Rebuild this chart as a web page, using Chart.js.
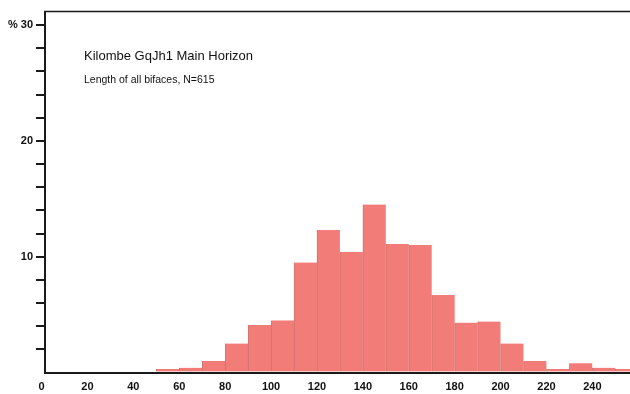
<!DOCTYPE html>
<html><head><meta charset="utf-8">
<script src="https://cdn.jsdelivr.net/npm/chart.js@4"></script>
<style>html,body{margin:0;padding:0;background:#fff}#wrap{width:630px;height:394px}</style>
</head><body><div id="wrap"><canvas id="c" width="630" height="394"></canvas></div>
<script>
// Histogram bins (start of each 10-unit length class)
const binStarts = [50,60,70,80,90,100,110,120,130,140,150,160,170,180,190,200,210,220,230,240,250];
const binWidth = 10;
// Percentage of bifaces in each bin
const percentages = [0.3,0.4,1.0,2.5,4.1,4.5,9.5,12.3,10.4,14.5,11.1,11.0,6.7,4.3,4.4,2.5,1.0,0.3,0.8,0.4,0.3];
// Tick labels
const xTickValues = [0,20,40,60,80,100,120,140,160,180,200,220,240];
const yLabelValues = [10,20,30];
const yLabelTexts = ['10','20','% 30'];
const titleText = 'Kilombe GqJh1 Main Horizon';
const subtitleText = 'Length of all bifaces, N=615';

const FONT = '"Liberation Sans", Arial, Helvetica, sans-serif';
const INK = '#1a1a1a';

const framePlugin = {
  id: 'frame',
  afterDraw(chart) {
    const {ctx, chartArea} = chart;
    ctx.save();
    ctx.strokeStyle = INK;
    ctx.lineWidth = 1.5;
    ctx.beginPath();
    ctx.moveTo(chartArea.left - 1, chartArea.top);
    ctx.lineTo(chartArea.right, chartArea.top);
    ctx.stroke();
    ctx.fillStyle = '#111';
    ctx.textBaseline = 'alphabetic';
    ctx.textAlign = 'left';
    ctx.font = '13px ' + FONT;
    ctx.fillText(titleText, 84, 59.5);
    ctx.font = '10.5px ' + FONT;
    ctx.fillText(subtitleText, 84, 82.5);
    ctx.restore();
  }
};

Chart.defaults.font.family = FONT;

new Chart(document.getElementById('c'), {
  type: 'bar',
  data: {
    datasets: [{
      data: binStarts.map((s, i) => ({x: s + binWidth / 2, y: percentages[i]})),
      backgroundColor: '#F17C78',
      borderColor: '#CF736F',
      borderWidth: {left: 1, right: 0, top: 0, bottom: 0},
      borderSkipped: false,
      categoryPercentage: 1,
      barPercentage: 1
    }]
  },
  options: {
    responsive: false,
    animation: false,
    devicePixelRatio: 1,
    layout: {padding: {top: 11.5, right: 0, left: 0, bottom: 0}},
    plugins: {legend: {display: false}, tooltip: {enabled: false}},
    scales: {
      x: {
        type: 'linear',
        min: 1.5,
        max: 256.4,
        offset: false,
        afterBuildTicks: s => { s.ticks = xTickValues.map(v => ({value: v})); },
        ticks: {
          autoSkip: false, maxRotation: 0, padding: 8, color: '#111',
          font: {size: 11, weight: 'bold'},
          callback: v => String(v)
        },
        grid: {display: false, drawTicks: false},
        border: {display: true, color: INK, width: 2},
        afterFit: s => { s.height = 21.5; }
      },
      y: {
        min: 0,
        max: 31.17,
        position: 'left',
        ticks: {
          stepSize: 2, includeBounds: false, autoSkip: false, padding: 3, color: '#111',
          font: {size: 11, weight: 'bold'},
          callback: v => { const k = yLabelValues.indexOf(v); return k >= 0 ? yLabelTexts[k] : ''; }
        },
        grid: {
          drawOnChartArea: false, drawTicks: true, tickLength: 9, lineWidth: 2,
          color: c => (c.tick && c.tick.value === 0) ? 'rgba(0,0,0,0)' : INK
        },
        border: {display: true, color: INK, width: 2},
        afterFit: s => { s.width = 45; }
      }
    }
  },
  plugins: [framePlugin]
});
</script>
</body></html>
